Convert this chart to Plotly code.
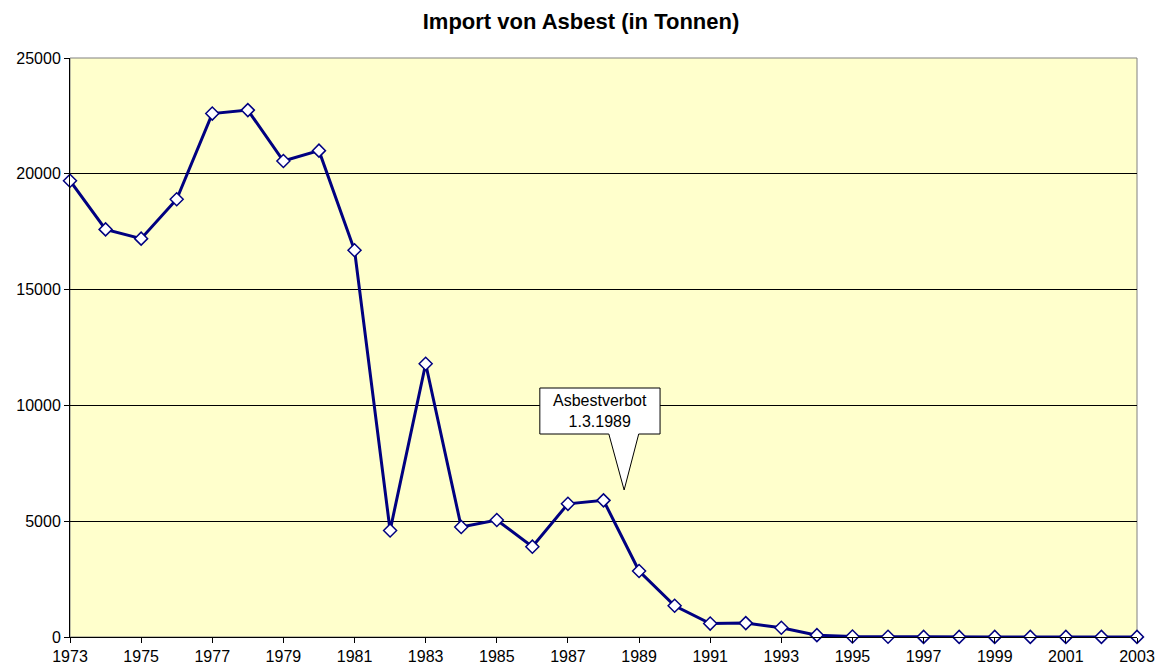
import plotly.graph_objects as go

years = list(range(1973, 2004))
tonnes = [19700, 17600, 17200, 18900, 22600, 22750, 20550, 21000, 16700, 4600,
          11800, 4750, 5050, 3900, 5750, 5900, 2850, 1350, 580, 600,
          400, 80, 20, 10, 5, 5, 5, 5, 5, 5, 5]
title = "Import von Asbest (in Tonnen)"
callout_text = "Asbestverbot<br>1.3.1989"

FONT = "Liberation Sans, Arial, sans-serif"

fig = go.Figure()
fig.add_trace(go.Scatter(
    x=years, y=tonnes, mode="lines+markers",
    line=dict(color="#000080", width=3),
    marker=dict(symbol="diamond", size=10, color="white",
                line=dict(color="#000080", width=1.5)),
    cliponaxis=False, showlegend=False, hoverinfo="x+y"))

# callout box with pointer (data coordinates)
xl, xr, xb1, xb2, xt = 1986.21, 1989.59, 1988.15, 1988.99, 1988.58
yt, yb, ytip = 10751, 8765, 6347
path = (f"M {xl},{yt} L {xr},{yt} L {xr},{yb} L {xb2},{yb} L {xt},{ytip} "
        f"L {xb1},{yb} L {xl},{yb} Z")
fig.add_shape(type="path", path=path, xref="x", yref="y",
              fillcolor="white", line=dict(color="black", width=1), layer="above")
fig.add_annotation(x=(xl + xr) / 2, y=(yt + yb) / 2, xref="x", yref="y",
                   text=callout_text, showarrow=False,
                   font=dict(family=FONT, size=16, color="black"))

fig.update_layout(
    width=1162, height=668, autosize=False,
    margin=dict(l=70, r=25, t=58, b=31),
    paper_bgcolor="white", plot_bgcolor="#FFFFCC",
    title=dict(text="<b>" + title + "</b>", x=0.5, xanchor="center", y=0.968, yanchor="middle",
               font=dict(family=FONT, size=22, color="black")),
    font=dict(family=FONT, size=16, color="black"),
)
fig.update_xaxes(range=[1973, 2003], tickmode="linear", tick0=1973, dtick=2,
                 ticks="outside", ticklen=5, tickcolor="black",
                 showgrid=False, zeroline=False, showline=True, linecolor="black",
                 linewidth=1, mirror=False, tickfont=dict(size=16), automargin=False)
fig.update_yaxes(range=[0, 25000], tickmode="linear", tick0=0, dtick=5000,
                 ticks="outside", ticklen=5, tickcolor="black",
                 showgrid=True, gridcolor="black", gridwidth=1, zeroline=False,
                 showline=True, linecolor="black", linewidth=1,
                 tickformat="d", tickfont=dict(size=16), automargin=False)
# gray border on top/right of plot area
fig.add_shape(type="rect", xref="paper", yref="paper", x0=0, x1=1, y0=0, y1=1,
              line=dict(color="#808080", width=1), layer="below")

fig.write_html("out.html",
               config={"responsive": False, "displayModeBar": False},
               post_script="document.body.style.margin='0px';document.body.style.overflow='hidden';")
